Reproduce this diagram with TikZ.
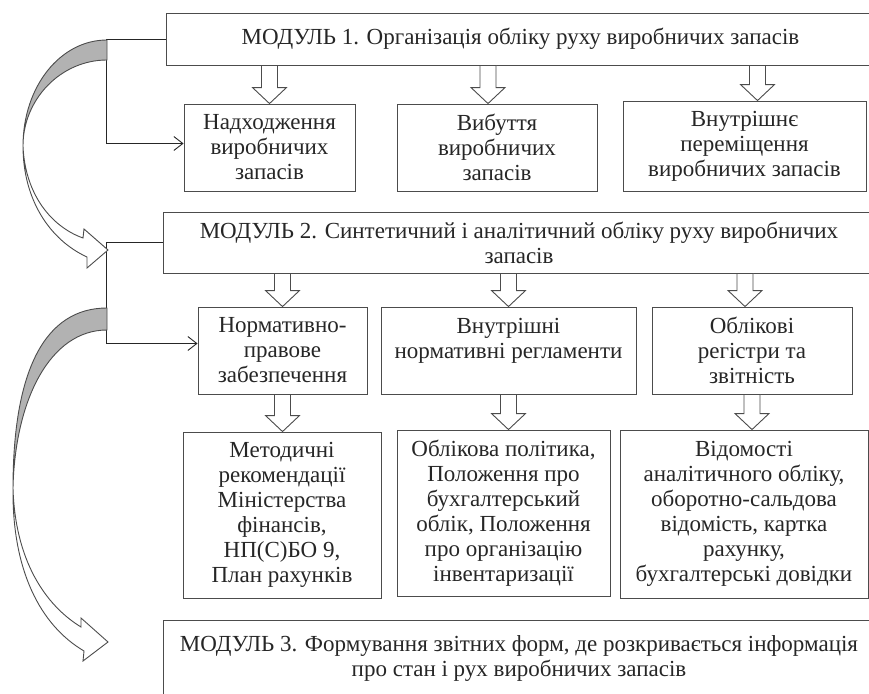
\documentclass[tikz,border=0pt]{standalone}
\usepackage{fontspec}
\setmainfont{Liberation Serif}
\usetikzlibrary{arrows.meta, calc}

\begin{document}
\begin{tikzpicture}[x=1pt, y=-1pt,
	box/.style={draw=black!70, line width=.9pt, align=center, inner sep=0pt, text=black!85, font=\fontsize{23}{25}\selectfont},
	conn/.style={draw=black!85, line width=.9pt, -{Straight Barb[length=9pt,width=14pt]}},
	barr/.style={draw=black!70, fill=white, line width=.9pt,
		to path={let \p1=(\tikztostart), \p2=(\tikztotarget) in
			(\x1-8pt,\y1) -- (\x1-8pt,\y2+16pt) -- (\x1-17pt,\y2+16pt) -- (\x1,\y2)
			-- (\x1+17pt,\y2+16pt) -- (\x1+8pt,\y2+16pt) -- (\x1+8pt,\y1) -- cycle}},
	band/.style={draw=black!70, line width=.9pt}]
	\useasboundingbox (0,0) rectangle (869,693);
	
	\node[box, minimum width=709, minimum height=52] (m1) at (520.5,39) {МОДУЛЬ 1. Організація обліку руху виробничих запасів};
	
	\node[box, minimum width=171, minimum height=87] (n1) at (269.5,147.5) {Надходження\\виробничих\\запасів};
	\node[box, minimum width=200, minimum height=87] (n2) at (497,147.5) {Вибуття\\виробничих\\запасів};
	\node[box, minimum width=243, minimum height=90] (n3) at (744.5,146) {Внутрішнє\\переміщення\\виробничих запасів};
	
	\draw[barr] (m1.south -| n1) to (n1.north);
	\draw[barr] ($(m1.south -| n2)+(-9,0)$) to (n2.north);
	\draw[barr] ($(m1.south -| n3)+(13,0)$) to (n3.north);
	
	\node[box, minimum width=712, minimum height=61] (m2) at (519,242.5) {МОДУЛЬ 2. Синтетичний і аналітичний обліку руху виробничих\\запасів};
	
	\node[box, minimum width=169, minimum height=87] (p1) at (282.5,350.5) {Нормативно-\\правове\\забезпечення};
	\node[box, minimum width=255, minimum height=87] (p2) at (508.5,350.5) {Внутрішні\\нормативні регламенти\\~};
	\node[box, minimum width=200, minimum height=87] (p3) at (752,350.5) {Облікові\\регістри та\\звітність};
	
	\draw[barr] (m2.south -| p1) to (p1.north);
	\draw[barr] (m2.south -| p2) to (p2.north);
	\draw[barr] ($(m2.south -| p3)+(-7,0)$) to (p3.north);
	
	\node[box, minimum width=198, minimum height=166] (q1) at (282,515) {Методичні\\рекомендації\\Міністерства\\фінансів,\\НП(С)БО 9,\\План рахунків};
	\node[box, minimum width=213, minimum height=166] (q2) at (503.5,513) {Облікова політика,\\Положення про\\бухгалтерський\\облік, Положення\\про організацію\\інвентаризації};
	\node[box, minimum width=248, minimum height=168] (q3) at (744,514) {Відомості\\аналітичного обліку,\\оборотно-сальдова\\відомість, картка\\рахунку,\\бухгалтерські довідки};
	
	\draw[barr] (p1.south) to (q1.north);
	\draw[barr] (p2.south) to (q2.north);
	\draw[barr] (p3.south) to (q3.north);
	
	\node[box, minimum width=712, minimum height=77] (m3) at (519,658.5) {МОДУЛЬ 3. Формування звітних форм, де розкривається інформація\\про стан і рух виробничих запасів};
	
	\draw[conn] (m1.west) -- ++(-59,0) |- ([yshift=4pt]n1.west);
	\draw[conn] (m2.west) -- ++(-56,0) |- ([yshift=7pt]p1.west);
	
	\filldraw[band, fill=black!30] (107,40) .. controls (60,40) and (23,87) .. (23,146)
		.. controls (23,99) and (61,60) .. (107,60) -- cycle;
	\filldraw[band, fill=white] (23,146) .. controls (25,195) and (52,227) .. (83,238)
		-- (84,229) -- (108,250) -- (87,268) -- (87,257)
		.. controls (50,240) and (23,200) .. (23,146) -- cycle;
	
	\filldraw[band, fill=black!30] (107,308) .. controls (45,308) and (13,370) .. (13,488)
		.. controls (15,400) and (50,330) .. (107,330) -- cycle;
	\filldraw[band, fill=white] (13,488) .. controls (15,560) and (45,605) .. (81,627)
		-- (81,618) -- (108,642) -- (83,661) -- (84,651)
		.. controls (40,625) and (12,570) .. (13,488) -- cycle;
\end{tikzpicture}
\end{document}
